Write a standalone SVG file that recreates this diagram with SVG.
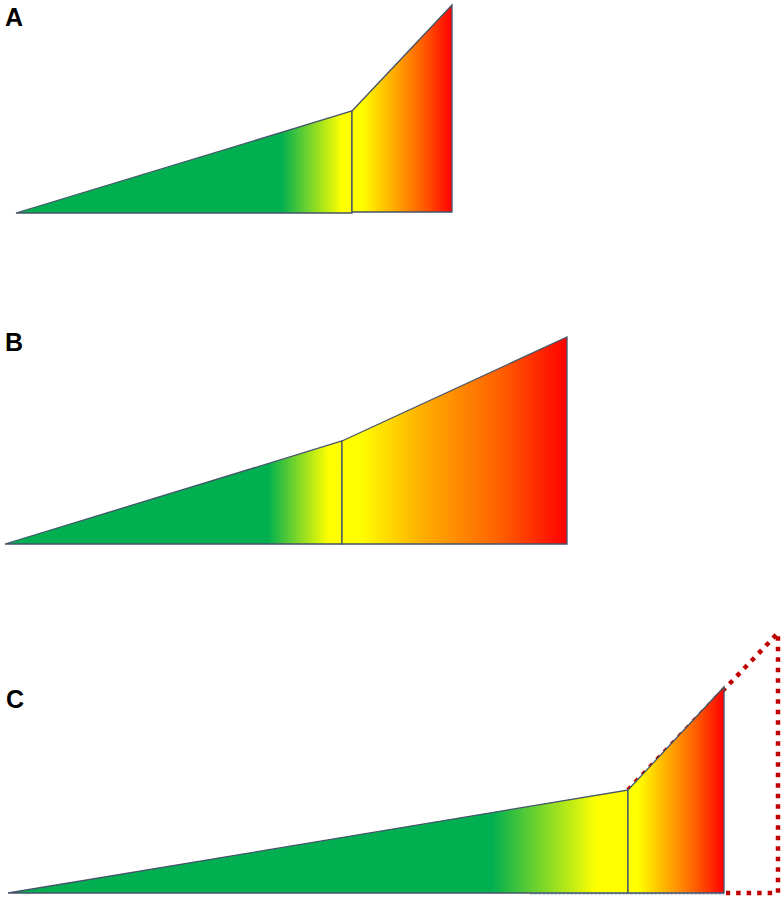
<svg xmlns="http://www.w3.org/2000/svg" width="782" height="899" viewBox="0 0 782 899">
<style>
.lbl{font-family:"Liberation Sans",Arial,sans-serif;font-weight:bold;font-size:25px;fill:#000}
.sh{stroke:#44546a;stroke-width:1.3;stroke-linejoin:miter}
.dot{fill:none;stroke:#c00000;stroke-width:4.5;stroke-dasharray:4.5 6}
</style>
<defs>
<linearGradient id="gA1" gradientUnits="userSpaceOnUse" x1="16" y1="0" x2="352" y2="0">
<stop offset="0" stop-color="#00b050"/><stop offset="0.79" stop-color="#00b050"/><stop offset="0.97" stop-color="#ffff00"/><stop offset="1" stop-color="#ffff00"/>
</linearGradient>
<linearGradient id="gA2" gradientUnits="userSpaceOnUse" x1="352" y1="0" x2="452" y2="0">
<stop offset="0" stop-color="#ffff00"/><stop offset="0.1" stop-color="#ffff00"/><stop offset="0.4" stop-color="#ffb000"/><stop offset="0.7" stop-color="#ff6000"/><stop offset="1" stop-color="#ff0000"/>
</linearGradient>
<linearGradient id="gB1" gradientUnits="userSpaceOnUse" x1="5" y1="0" x2="342" y2="0">
<stop offset="0" stop-color="#00b050"/><stop offset="0.78" stop-color="#00b050"/><stop offset="0.96" stop-color="#ffff00"/><stop offset="1" stop-color="#ffff00"/>
</linearGradient>
<linearGradient id="gB2" gradientUnits="userSpaceOnUse" x1="342" y1="0" x2="567" y2="0">
<stop offset="0" stop-color="#ffff00"/><stop offset="0.08" stop-color="#ffff00"/><stop offset="0.35" stop-color="#ffb000"/><stop offset="0.7" stop-color="#ff6000"/><stop offset="1" stop-color="#ff0000"/>
</linearGradient>
<linearGradient id="gC1" gradientUnits="userSpaceOnUse" x1="8" y1="0" x2="628" y2="0">
<stop offset="0" stop-color="#00b050"/><stop offset="0.78" stop-color="#00b050"/><stop offset="0.95" stop-color="#ffff00"/><stop offset="1" stop-color="#ffff00"/>
</linearGradient>
<linearGradient id="gC2" gradientUnits="userSpaceOnUse" x1="628" y1="0" x2="724" y2="0">
<stop offset="0" stop-color="#ffff00"/><stop offset="0.1" stop-color="#ffff00"/><stop offset="0.4" stop-color="#ffb000"/><stop offset="0.7" stop-color="#ff6000"/><stop offset="1" stop-color="#ff0000"/>
</linearGradient>
</defs>

<g id="panelA">
<text class="lbl" x="5" y="26">A</text>
<g id="A-left"><polygon class="sh" fill="url(#gA1)" points="16,213 352,111 352,213"/></g>
<g id="A-right"><polygon class="sh" fill="url(#gA2)" points="352,111 452,5 452,212 352,212"/></g>
</g>

<g id="panelB">
<text class="lbl" x="5" y="351">B</text>
<g id="B-left"><polygon class="sh" fill="url(#gB1)" points="5,544 342,441 342,544"/></g>
<g id="B-right"><polygon class="sh" fill="url(#gB2)" points="342,441 567,337 567,544 342,544"/></g>
</g>

<g id="panelC">
<text class="lbl" x="6" y="708">C</text>
<g id="C-outline"><path class="dot" d="M628,790 L778,633 L778,893 L726,893"/></g>
<g id="C-left"><polygon class="sh" fill="url(#gC1)" points="8,893 628,790 628,893"/></g>
<g id="C-right"><polygon class="sh" fill="url(#gC2)" points="628,790 724,687 724,893 628,893"/></g>
<line x1="530" y1="893.5" x2="724" y2="893.5" stroke="#5a6f95" stroke-width="1.5" stroke-dasharray="3 1"/>
</g>
<g id="connectors"/>
</svg>
